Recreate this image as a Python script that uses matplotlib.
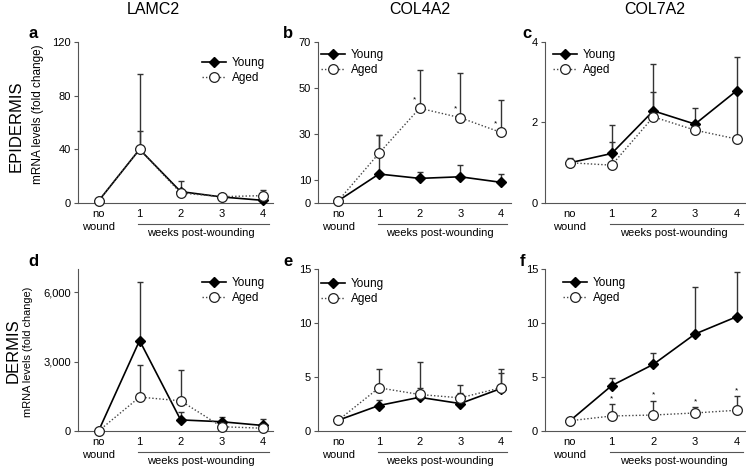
import numpy as np
import matplotlib
matplotlib.use('Agg')
import matplotlib.pyplot as plt

plt.rcParams['font.family'] = ['Liberation Sans', 'DejaVu Sans']

weeks = [0, 1, 2, 3, 4]
xlabels = ['no\nwound', '1', '2', '3', '4']
genes = ['LAMC2', 'COL4A2', 'COL7A2']
tissues = ['EPIDERMIS', 'DERMIS']
letters = ['a', 'b', 'c', 'd', 'e', 'f']

# a: LAMC2 epidermis
a_young = [1.5, 40, 8.5, 4.5, 2.0]
a_young_err = [0, 56, 8, 0, 0]
a_aged = [1.5, 40, 7.5, 4.7, 5.5]
a_aged_err = [0, 14, 0, 0, 4]
# b: COL4A2 epidermis
b_young = [1.0, 12.6, 10.7, 11.4, 9.0]
b_young_err = [0, 17, 2.9, 5.1, 3.5]
b_aged = [1.0, 21.6, 41.2, 37.1, 30.7]
b_aged_err = [0, 8, 16.6, 19.3, 14.1]
b_stars = [2, 3, 4]
# c: COL7A2 epidermis
c_young = [1.0, 1.23, 2.29, 1.96, 2.79]
c_young_err = [0.11, 0.71, 1.16, 0.41, 0.84]
c_aged = [1.0, 0.94, 2.14, 1.81, 1.59]
c_aged_err = [0, 0.58, 0.61, 0, 1.2]
# d: LAMC2 dermis
d_young = [0, 3910, 480, 400, 240]
d_young_err = [0, 2540, 360, 220, 280]
d_aged = [0, 1465, 1305, 185, 120]
d_aged_err = [0, 1405, 1350, 0, 0]
# e: COL4A2 dermis
e_young = [1.0, 2.36, 3.12, 2.54, 3.93]
e_young_err = [0, 0.54, 0.88, 1.0, 1.45]
e_aged = [1.0, 4.0, 3.38, 3.07, 4.0]
e_aged_err = [0, 1.78, 2.98, 1.23, 1.78]
# f: COL7A2 dermis
f_young = [0.95, 4.2, 6.17, 8.98, 10.58]
f_young_err = [0, 0.73, 1.08, 4.38, 4.11]
f_aged = [0.95, 1.39, 1.48, 1.67, 1.92]
f_aged_err = [0, 1.08, 1.32, 0.53, 1.32]
f_stars = [1, 2, 3, 4]

yticks = {
    'a': ([0, 40, 80, 120], ['0', '40', '80', '120'], 120),
    'b': ([0, 10, 30, 50, 70], ['0', '10', '30', '50', '70'], 70),
    'c': ([0, 2, 4], ['0', '2', '4'], 4),
    'd': ([0, 3000, 6000], ['0', '3,000', '6,000'], 7000),
    'e': ([0, 5, 10, 15], ['0', '5', '10', '15'], 15),
    'f': ([0, 5, 10, 15], ['0', '5', '10', '15'], 15),
}

panels = {
    'a': (a_young, a_young_err, a_aged, a_aged_err, [], None),
    'b': (b_young, b_young_err, b_aged, b_aged_err, b_stars, 'marker'),
    'c': (c_young, c_young_err, c_aged, c_aged_err, [], None),
    'd': (d_young, d_young_err, d_aged, d_aged_err, [], None),
    'e': (e_young, e_young_err, e_aged, e_aged_err, [], None),
    'f': (f_young, f_young_err, f_aged, f_aged_err, f_stars, 'cap'),
}

W, H = 746, 469
fig = plt.figure(figsize=(W / 100, H / 100), dpi=100)

cols = [(78, 273), (318, 511), (545, 745)]
rows = [(42, 203), (269, 431)]
xlims = [(-0.5, 4.25), (-0.5, 4.25), (-0.6, 4.2)]
leg_anchor = {
    'a': (202, 57), 'b': (321, 49), 'c': (553, 49),
    'd': (202, 277), 'e': (321, 278), 'f': (563, 277),
}
letter_pos = {'a': (33, 33), 'b': (288, 33), 'c': (527, 33),
              'd': (33, 262), 'e': (288, 262), 'f': (523, 262)}

axcol = '#555555'
for i, key in enumerate(letters):
    r, c = divmod(i, 3)
    x0, x1 = cols[c]
    y0, y1 = rows[r]
    ax = fig.add_axes([x0 / W, 1 - y1 / H, (x1 - x0) / W, (y1 - y0) / H])
    young, yerr, aged, aerr, stars, starmode = panels[key]
    young = np.array(young, float)
    aged = np.array(aged, float)
    yerr = np.array(yerr, float)
    aerr = np.array(aerr, float)
    xs = np.array(weeks, float)

    m = yerr > 0
    ax.errorbar(xs[m], young[m], yerr=[np.zeros(m.sum()), yerr[m]], fmt='none',
                ecolor='#333333', elinewidth=1.0, capsize=2.3, capthick=1.0, zorder=2)
    m = aerr > 0
    ax.errorbar(xs[m], aged[m], yerr=[np.zeros(m.sum()), aerr[m]], fmt='none',
                ecolor='#333333', elinewidth=1.0, capsize=2.3, capthick=1.0, zorder=2)

    ax.plot(xs, young, color='black', lw=1.2, marker='D', ms=5,
            mfc='black', mec='black', label='Young', zorder=3, clip_on=False)
    ax.plot(xs, aged, color='#444444', lw=1.0, ls=(0, (1, 1.5)), marker='o', ms=7,
            mfc='white', mec='#222222', mew=0.9, label='Aged', zorder=4, clip_on=False)

    for s in stars:
        if starmode == 'marker':
            ax.annotate('*', xy=(s, aged[s]), xytext=(-3.5, 6), textcoords='offset points',
                        ha='center', va='center', fontsize=6)
        else:
            ax.annotate('*', xy=(s, aged[s] + aerr[s]), xytext=(0, 4), textcoords='offset points',
                        ha='center', va='center', fontsize=6)

    ticks, tlabels, ymax = yticks[key]
    ax.set_ylim(0, ymax)
    ax.set_yticks(ticks)
    ax.set_yticklabels(tlabels)
    ax.set_xlim(*xlims[c])
    ax.set_xticks(weeks)
    ax.set_xticklabels(xlabels)
    for sp in ['top', 'right']:
        ax.spines[sp].set_visible(False)
    for sp in ['left', 'bottom']:
        ax.spines[sp].set_color(axcol)
        ax.spines[sp].set_linewidth(0.8)
    ax.tick_params(axis='x', length=0, pad=4, labelsize=8)
    ax.tick_params(axis='y', length=3, width=0.8, color=axcol, pad=2, labelsize=8)
    for lab in ax.get_xticklabels():
        lab.set_linespacing(1.45)

    hpx = y1 - y0
    ax.plot([0.97, 4.15], [-21 / hpx, -21 / hpx], transform=ax.get_xaxis_transform(),
            color=axcol, lw=0.8, clip_on=False)
    ax.text(2.5, -30 / hpx, 'weeks post-wounding', transform=ax.get_xaxis_transform(),
            ha='center', va='center', fontsize=8)

    lx, ly = leg_anchor[key]
    ax.legend(loc='upper left',
              bbox_to_anchor=((lx - x0) / (x1 - x0), (y1 - ly) / (y1 - y0)),
              frameon=False, fontsize=8.5, borderpad=0, borderaxespad=0,
              handlelength=2.0, handletextpad=0.5, labelspacing=0.25)

    lpx, lpy = letter_pos[key]
    fig.text(lpx / W, 1 - lpy / H, key, fontsize=12, fontweight='bold',
             ha='center', va='center')

for xpx, g in zip([153, 420, 655], genes):
    fig.text(xpx / W, 1 - 10 / H, g, fontsize=11.5, ha='center', va='center')

for (xpx, ypx), t in zip([(16, 126), (13, 351)], tissues):
    fig.text(xpx / W, 1 - ypx / H, t, fontsize=12, rotation=90, ha='center', va='center')
for (xpx, ypx), fs in zip([(38, 114), (28, 352)], [8.5, 7.9]):
    fig.text(xpx / W, 1 - ypx / H, 'mRNA levels (fold change)', fontsize=fs,
             rotation=90, ha='center', va='center')

fig.savefig('out.png', dpi=100)
